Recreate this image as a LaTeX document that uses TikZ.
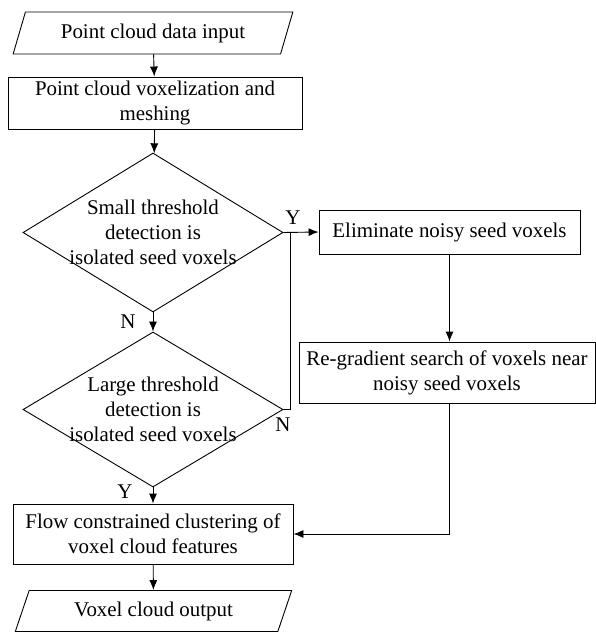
\documentclass[tikz,border=0pt]{standalone}
\usepackage{fontspec}
\setmainfont{Liberation Serif}
\usetikzlibrary{shapes.geometric,arrows.meta}

\tikzset{
  flow/.style={draw,line width=0.9bp,align=center,inner sep=0pt},
  iobox/.style={flow,trapezium,trapezium left angle=65,trapezium right angle=115,trapezium stretches=true},
  procbox/.style={flow,rectangle},
  decision/.style={flow,diamond},
  link/.style={line width=0.9bp,-{Latex[length=10bp,width=8bp]}},
  line/.style={line width=0.9bp},
}

\begin{document}
\begin{tikzpicture}[x=1bp,y=-1bp,font=\fontsize{21}{25}\selectfont]
  \useasboundingbox (0,0) rectangle (596,632);
  % left column
  \node[iobox,minimum width=280bp,minimum height=42bp] (input) at (153,33) {Point cloud data input};
  \node[procbox,minimum width=294bp,minimum height=52bp] (voxel) at (155,103) {Point cloud voxelization and\\meshing};
  \node[decision,minimum width=260bp,minimum height=159bp,
        label={[align=center]center:{Small threshold\\detection is\\isolated seed voxels}}] (small) at (153,232.5) {};
  \node[decision,minimum width=260bp,minimum height=155bp,
        label={[align=center]center:{Large threshold\\detection is\\isolated seed voxels}}] (large) at (153,409.5) {};
  \node[procbox,minimum width=280bp,minimum height=60bp] (cluster) at (153,534) {Flow constrained clustering of\\voxel cloud features};
  \node[iobox,minimum width=277bp,minimum height=41bp] (output) at (153.5,611) {Voxel cloud output};
  % right column
  \node[procbox,minimum width=261bp,minimum height=44bp] (elim) at (449.5,232) {Eliminate noisy seed voxels};
  \node[procbox,minimum width=296bp,minimum height=61bp] (regrad) at (447,372.5) {Re-gradient search of voxels near\\noisy seed voxels};
  \coordinate (join) at (290,232);

  \draw[link] (input) -- (voxel);
  \draw[link] (voxel) -- (small);
  \draw[link] (small) -- (large);
  \draw[link] (small.east) -- (elim.west);
  \draw[line] (large.east) -| (join);
  \draw[link] (large) -- (cluster);
  \draw[link] (elim.south) -- (elim.south |- regrad.north);
  \draw[link] (elim.south |- regrad.south) |- (cluster.east);
  \draw[link] (cluster) -- (output);

  % branch labels
  \node (ysmall) at (293,218) {Y};
  \node (nsmall) at (128,322) {N};
  \node (nlarge) at (283,425) {N};
  \node (ylarge) at (125,492) {Y};
\end{tikzpicture}
\end{document}
